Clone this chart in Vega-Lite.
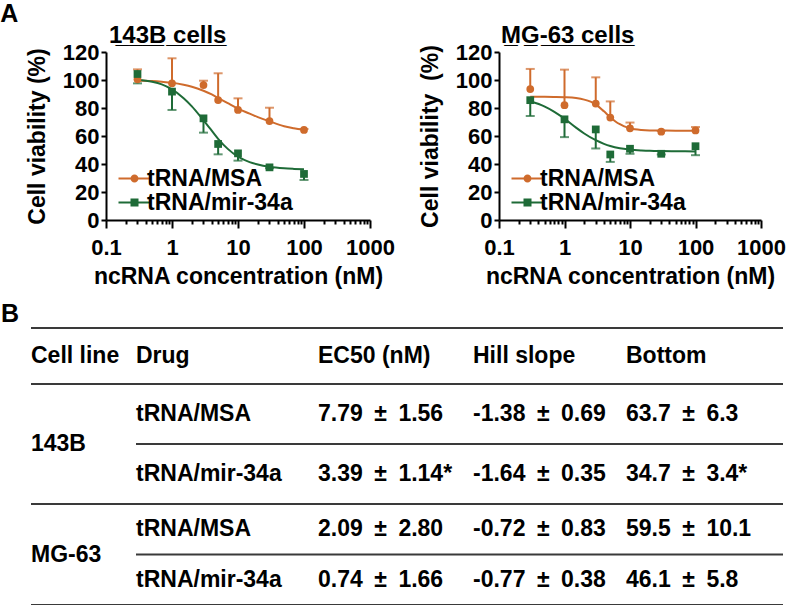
{
  "$schema": "https://vega.github.io/schema/vega-lite/v6.json",
  "padding": {"left": 0, "top": 2, "right": 0, "bottom": 0},
  "background": "white",
  "config": {
    "font": "Liberation Sans",
    "view": {"stroke": null},
    "axis": {
      "labelFont": "Liberation Sans", "labelFontWeight": "bold", "labelFontSize": 22, "labelColor": "black",
      "titleFont": "Liberation Sans", "titleFontWeight": "bold", "titleFontSize": 23, "titleColor": "black",
      "domainColor": "black", "domainWidth": 2, "tickColor": "black", "tickWidth": 2, "grid": false
    },
    "legend": {
      "orient": "bottom-left", "offset": 5, "padding": 0, "rowPadding": 0,
      "labelFont": "Liberation Sans", "labelFontSize": 23, "labelFontWeight": "bold", "labelColor": "black",
      "labelOffset": 13, "symbolSize": 256, "symbolStrokeWidth": 0, "symbolOpacity": 1
    },
    "title": {"font": "Liberation Sans", "fontWeight": "bold", "color": "black"}
  },
  "datasets": {
    "pts143B": [
      {"conc": 0.3, "series": "tRNA/MSA", "via": 100.5, "errEnd": 107.6},
      {"conc": 1, "series": "tRNA/MSA", "via": 97.6, "errEnd": 115.5},
      {"conc": 3, "series": "tRNA/MSA", "via": 96.4, "errEnd": 99.5},
      {"conc": 5, "series": "tRNA/MSA", "via": 85.7, "errEnd": 104.8},
      {"conc": 10, "series": "tRNA/MSA", "via": 78.6, "errEnd": 86.9},
      {"conc": 30, "series": "tRNA/MSA", "via": 70.7, "errEnd": 80.2},
      {"conc": 100, "series": "tRNA/MSA", "via": 64.3, "errEnd": 65.0},
      {"conc": 0.3, "series": "tRNA/mir-34a", "via": 104.3, "errEnd": 97.6},
      {"conc": 1, "series": "tRNA/mir-34a", "via": 91.7, "errEnd": 78.6},
      {"conc": 3, "series": "tRNA/mir-34a", "via": 72.6, "errEnd": 62.4},
      {"conc": 5, "series": "tRNA/mir-34a", "via": 54.3, "errEnd": 46.9},
      {"conc": 10, "series": "tRNA/mir-34a", "via": 47.6, "errEnd": 42.4},
      {"conc": 30, "series": "tRNA/mir-34a", "via": 37.6, "errEnd": 37.0},
      {"conc": 100, "series": "tRNA/mir-34a", "via": 32.9, "errEnd": 28.6}
    ],
    "curve143B": [
      {"conc": 0.3, "series": "tRNA/MSA", "via": 99.6},
      {"conc": 0.5, "series": "tRNA/MSA", "via": 99.2},
      {"conc": 0.7, "series": "tRNA/MSA", "via": 98.7},
      {"conc": 1, "series": "tRNA/MSA", "via": 98.0},
      {"conc": 1.5, "series": "tRNA/MSA", "via": 96.6},
      {"conc": 2, "series": "tRNA/MSA", "via": 95.2},
      {"conc": 3, "series": "tRNA/MSA", "via": 92.3},
      {"conc": 4, "series": "tRNA/MSA", "via": 89.7},
      {"conc": 5, "series": "tRNA/MSA", "via": 87.2},
      {"conc": 7, "series": "tRNA/MSA", "via": 83.4},
      {"conc": 10, "series": "tRNA/MSA", "via": 79.5},
      {"conc": 15, "series": "tRNA/MSA", "via": 76.0},
      {"conc": 20, "series": "tRNA/MSA", "via": 73.5},
      {"conc": 30, "series": "tRNA/MSA", "via": 70.5},
      {"conc": 50, "series": "tRNA/MSA", "via": 67.0},
      {"conc": 70, "series": "tRNA/MSA", "via": 65.6},
      {"conc": 100, "series": "tRNA/MSA", "via": 64.4},
      {"conc": 0.3, "series": "tRNA/mir-34a", "via": 100.2},
      {"conc": 0.5, "series": "tRNA/mir-34a", "via": 98.8},
      {"conc": 0.7, "series": "tRNA/mir-34a", "via": 96.9},
      {"conc": 1, "series": "tRNA/mir-34a", "via": 93.3},
      {"conc": 1.5, "series": "tRNA/mir-34a", "via": 87.0},
      {"conc": 2, "series": "tRNA/mir-34a", "via": 81.2},
      {"conc": 3, "series": "tRNA/mir-34a", "via": 71.2},
      {"conc": 4, "series": "tRNA/mir-34a", "via": 63.8},
      {"conc": 5, "series": "tRNA/mir-34a", "via": 58.0},
      {"conc": 7, "series": "tRNA/mir-34a", "via": 50.8},
      {"conc": 10, "series": "tRNA/mir-34a", "via": 45.2},
      {"conc": 15, "series": "tRNA/mir-34a", "via": 41.3},
      {"conc": 20, "series": "tRNA/mir-34a", "via": 39.6},
      {"conc": 30, "series": "tRNA/mir-34a", "via": 38.0},
      {"conc": 50, "series": "tRNA/mir-34a", "via": 36.9},
      {"conc": 70, "series": "tRNA/mir-34a", "via": 36.5},
      {"conc": 100, "series": "tRNA/mir-34a", "via": 36.2}
    ],
    "ptsMG63": [
      {"conc": 0.3, "series": "tRNA/MSA", "via": 93.5, "errEnd": 107.9},
      {"conc": 1, "series": "tRNA/MSA", "via": 82.0, "errEnd": 107.4},
      {"conc": 3, "series": "tRNA/MSA", "via": 83.2, "errEnd": 101.9},
      {"conc": 5, "series": "tRNA/MSA", "via": 73.2, "errEnd": 84.7},
      {"conc": 10, "series": "tRNA/MSA", "via": 65.5, "errEnd": 69.6},
      {"conc": 30, "series": "tRNA/MSA", "via": 63.1, "errEnd": 63.6},
      {"conc": 100, "series": "tRNA/MSA", "via": 64.0, "errEnd": 66.4},
      {"conc": 0.3, "series": "tRNA/mir-34a", "via": 85.6, "errEnd": 74.3},
      {"conc": 1, "series": "tRNA/mir-34a", "via": 71.9, "errEnd": 59.2},
      {"conc": 3, "series": "tRNA/mir-34a", "via": 64.7, "errEnd": 51.1},
      {"conc": 5, "series": "tRNA/mir-34a", "via": 46.8, "errEnd": 41.5},
      {"conc": 10, "series": "tRNA/mir-34a", "via": 50.9, "errEnd": 47.3},
      {"conc": 30, "series": "tRNA/mir-34a", "via": 47.3, "errEnd": 46.8},
      {"conc": 100, "series": "tRNA/mir-34a", "via": 52.7, "errEnd": 46.3}
    ],
    "curveMG63": [
      {"conc": 0.3, "series": "tRNA/MSA", "via": 88.0},
      {"conc": 0.5, "series": "tRNA/MSA", "via": 88.0},
      {"conc": 0.7, "series": "tRNA/MSA", "via": 87.9},
      {"conc": 1, "series": "tRNA/MSA", "via": 87.7},
      {"conc": 1.5, "series": "tRNA/MSA", "via": 87.1},
      {"conc": 2, "series": "tRNA/MSA", "via": 86.0},
      {"conc": 2.5, "series": "tRNA/MSA", "via": 84.5},
      {"conc": 3, "series": "tRNA/MSA", "via": 82.6},
      {"conc": 4, "series": "tRNA/MSA", "via": 77.6},
      {"conc": 5, "series": "tRNA/MSA", "via": 73.4},
      {"conc": 6, "series": "tRNA/MSA", "via": 70.4},
      {"conc": 7, "series": "tRNA/MSA", "via": 68.4},
      {"conc": 8, "series": "tRNA/MSA", "via": 67.0},
      {"conc": 10, "series": "tRNA/MSA", "via": 65.5},
      {"conc": 15, "series": "tRNA/MSA", "via": 64.3},
      {"conc": 20, "series": "tRNA/MSA", "via": 64.0},
      {"conc": 30, "series": "tRNA/MSA", "via": 63.9},
      {"conc": 50, "series": "tRNA/MSA", "via": 63.8},
      {"conc": 100, "series": "tRNA/MSA", "via": 63.8},
      {"conc": 0.3, "series": "tRNA/mir-34a", "via": 84.8},
      {"conc": 0.5, "series": "tRNA/mir-34a", "via": 81.0},
      {"conc": 0.7, "series": "tRNA/mir-34a", "via": 77.3},
      {"conc": 1, "series": "tRNA/mir-34a", "via": 72.4},
      {"conc": 1.5, "series": "tRNA/mir-34a", "via": 66.0},
      {"conc": 2, "series": "tRNA/mir-34a", "via": 61.8},
      {"conc": 3, "series": "tRNA/mir-34a", "via": 57.0},
      {"conc": 4, "series": "tRNA/mir-34a", "via": 54.4},
      {"conc": 5, "series": "tRNA/mir-34a", "via": 52.8},
      {"conc": 7, "series": "tRNA/mir-34a", "via": 51.2},
      {"conc": 10, "series": "tRNA/mir-34a", "via": 50.3},
      {"conc": 15, "series": "tRNA/mir-34a", "via": 49.7},
      {"conc": 20, "series": "tRNA/mir-34a", "via": 49.4},
      {"conc": 30, "series": "tRNA/mir-34a", "via": 49.2},
      {"conc": 50, "series": "tRNA/mir-34a", "via": 49.1},
      {"conc": 100, "series": "tRNA/mir-34a", "via": 49.0}
    ],
    "table": [
      {"row": 0, "col": 0, "text": "Cell line"},
      {"row": 0, "col": 1, "text": "Drug"},
      {"row": 0, "col": 2, "text": "EC50 (nM)"},
      {"row": 0, "col": 3, "text": "Hill slope"},
      {"row": 0, "col": 4, "text": "Bottom"},
      {"row": 1.5, "col": 0, "text": "143B"},
      {"row": 1, "col": 1, "text": "tRNA/MSA"},
      {"row": 1, "col": 2, "text": "7.79\u2002±\u20021.56"},
      {"row": 1, "col": 3, "text": "-1.38\u2002±\u20020.69"},
      {"row": 1, "col": 4, "text": "63.7\u2002±\u20026.3"},
      {"row": 2, "col": 1, "text": "tRNA/mir-34a"},
      {"row": 2, "col": 2, "text": "3.39\u2002±\u20021.14*"},
      {"row": 2, "col": 3, "text": "-1.64\u2002±\u20020.35"},
      {"row": 2, "col": 4, "text": "34.7\u2002±\u20023.4*"},
      {"row": 3.5, "col": 0, "text": "MG-63"},
      {"row": 3, "col": 1, "text": "tRNA/MSA"},
      {"row": 3, "col": 2, "text": "2.09\u2002±\u20022.80"},
      {"row": 3, "col": 3, "text": "-0.72\u2002±\u20020.83"},
      {"row": 3, "col": 4, "text": "59.5\u2002±\u200210.1"},
      {"row": 4, "col": 1, "text": "tRNA/mir-34a"},
      {"row": 4, "col": 2, "text": "0.74\u2002±\u20021.66"},
      {"row": 4, "col": 3, "text": "-0.77\u2002±\u20020.38"},
      {"row": 4, "col": 4, "text": "46.1\u2002±\u20025.8"}
    ],
    "tlines": [
      {"y": -0.5, "x1": 0, "x2": 5},
      {"y": 0.5, "x1": 0, "x2": 5},
      {"y": 1.5, "x1": 1, "x2": 5},
      {"y": 2.5, "x1": 0, "x2": 5},
      {"y": 3.5, "x1": 1, "x2": 5},
      {"y": 4.5, "x1": 0, "x2": 5}
    ]
  },
  "vconcat": [
    {
      "title": {"text": "A", "anchor": "start", "frame": "bounds", "fontSize": 25, "dx": -26, "offset": -3},
      "spacing": 24,
      "resolve": {"scale": {"color": "independent", "shape": "independent", "x": "independent", "y": "independent"}},
      "hconcat": [
        {
          "width": 264, "height": 168,
          "title": {"text": "1\u03324\u03323\u0332B\u0332 \u0332c\u0332e\u0332l\u0332l\u0332s\u0332", "anchor": "start", "frame": "group", "fontSize": 24, "dx": 3, "offset": -7},
          "resolve": {"legend": {"color": "independent", "shape": "independent"}},
          "encoding": {
            "x": {"field": "conc", "type": "quantitative", "title": "ncRNA concentration (nM)",
              "scale": {"type": "log", "domain": [0.1, 1000], "nice": false},
              "axis": {"values": [0.1,0.2,0.3,0.4,0.5,0.6,0.7,0.8,0.9,1,2,3,4,5,6,7,8,9,10,20,30,40,50,60,70,80,90,100,200,300,400,500,600,700,800,900,1000],
                "format": "~g", "labelExpr": "indexof([0.1,1,10,100,1000], datum.value) >= 0 ? datum.label : ''",
                "tickSize": {"condition": {"test": "indexof([0.1,1,10,100,1000], datum.value) >= 0", "value": 8}, "value": 4},
                "labelOverlap": false, "labelFlush": false, "labelBound": false, "labelPadding": 9, "titlePadding": 7}},
            "y": {"field": "via", "type": "quantitative", "title": "Cell viability (%)",
              "scale": {"domain": [0, 120], "nice": false},
              "axis": {"values": [0,20,40,60,80,100,120], "tickSize": 5, "labelPadding": 2, "titlePadding": 13}}
          },
          "layer": [
            {"data": {"name": "curve143B"}, "mark": {"type": "line", "strokeWidth": 2, "interpolate": "monotone"},
              "encoding": {"color": {"field": "series", "type": "nominal", "scale": {"domain": ["tRNA/MSA", "tRNA/mir-34a"], "range": ["#CF6B2C", "#1E6B37"]}, "legend": null}}},
            {"data": {"name": "pts143B"}, "mark": {"type": "rule", "strokeWidth": 2},
              "encoding": {"y2": {"field": "errEnd"}, "color": {"field": "series", "type": "nominal", "legend": null}}},
            {"data": {"name": "pts143B"}, "mark": {"type": "tick", "orient": "horizontal", "thickness": 2, "size": 9},
              "encoding": {"y": {"field": "errEnd", "type": "quantitative", "title": "Cell viability (%)"}, "color": {"field": "series", "type": "nominal", "legend": null}}},
            {"data": {"name": "pts143B"}, "transform": [{"filter": "datum.series === 'tRNA/MSA'"}], "mark": {"type": "point", "shape": "circle", "filled": true, "size": 60, "opacity": 1},
              "encoding": {"color": {"field": "series", "type": "nominal", "legend": null}}},
            {"data": {"name": "pts143B"}, "transform": [{"filter": "datum.series === 'tRNA/mir-34a'"}], "mark": {"type": "point", "shape": "square", "filled": true, "size": 60, "opacity": 1},
              "encoding": {"color": {"field": "series", "type": "nominal", "legend": null}}},
            {"data": {"name": "pts143B"}, "transform": [{"filter": "false"}], "mark": {"type": "point", "filled": true, "opacity": 1},
              "encoding": {
                "color": {"field": "series", "type": "nominal", "legend": {"title": null}},
                "shape": {"field": "series", "type": "nominal",
                  "scale": {"domain": ["tRNA/MSA", "tRNA/mir-34a"], "range": ["M-0.5,-0.125H3.5V0.125H-0.5ZM1,0A0.5,0.5,0,1,1,2,0A0.5,0.5,0,1,1,1,0Z", "M-0.5,-0.125H3.5V0.125H-0.5ZM1,-0.5H2V0.5H1Z"]},
                  "legend": {"title": null}}
              }}
          ]
        },
        {
          "width": 262, "height": 168,
          "title": {"text": "M\u0332G\u0332-\u03326\u03323\u0332 \u0332c\u0332e\u0332l\u0332l\u0332s\u0332", "anchor": "start", "frame": "group", "fontSize": 24, "dx": 2, "offset": -7},
          "resolve": {"legend": {"color": "independent", "shape": "independent"}},
          "encoding": {
            "x": {"field": "conc", "type": "quantitative", "title": "ncRNA concentration (nM)",
              "scale": {"type": "log", "domain": [0.1, 1000], "nice": false},
              "axis": {"values": [0.1,0.2,0.3,0.4,0.5,0.6,0.7,0.8,0.9,1,2,3,4,5,6,7,8,9,10,20,30,40,50,60,70,80,90,100,200,300,400,500,600,700,800,900,1000],
                "format": "~g", "labelExpr": "indexof([0.1,1,10,100,1000], datum.value) >= 0 ? datum.label : ''",
                "tickSize": {"condition": {"test": "indexof([0.1,1,10,100,1000], datum.value) >= 0", "value": 8}, "value": 4},
                "labelOverlap": false, "labelFlush": false, "labelBound": false, "labelPadding": 9, "titlePadding": 7}},
            "y": {"field": "via", "type": "quantitative", "title": "Cell viability\u00a0 (%)",
              "scale": {"domain": [0, 120], "nice": false},
              "axis": {"values": [0,20,40,60,80,100,120], "tickSize": 5, "labelPadding": 2, "titlePadding": 13}}
          },
          "layer": [
            {"data": {"name": "curveMG63"}, "mark": {"type": "line", "strokeWidth": 2, "interpolate": "monotone"},
              "encoding": {"color": {"field": "series", "type": "nominal", "scale": {"domain": ["tRNA/MSA", "tRNA/mir-34a"], "range": ["#CF6B2C", "#1E6B37"]}, "legend": null}}},
            {"data": {"name": "ptsMG63"}, "mark": {"type": "rule", "strokeWidth": 2},
              "encoding": {"y2": {"field": "errEnd"}, "color": {"field": "series", "type": "nominal", "legend": null}}},
            {"data": {"name": "ptsMG63"}, "mark": {"type": "tick", "orient": "horizontal", "thickness": 2, "size": 9},
              "encoding": {"y": {"field": "errEnd", "type": "quantitative", "title": "Cell viability\u00a0 (%)"}, "color": {"field": "series", "type": "nominal", "legend": null}}},
            {"data": {"name": "ptsMG63"}, "transform": [{"filter": "datum.series === 'tRNA/MSA'"}], "mark": {"type": "point", "shape": "circle", "filled": true, "size": 60, "opacity": 1},
              "encoding": {"color": {"field": "series", "type": "nominal", "legend": null}}},
            {"data": {"name": "ptsMG63"}, "transform": [{"filter": "datum.series === 'tRNA/mir-34a'"}], "mark": {"type": "point", "shape": "square", "filled": true, "size": 60, "opacity": 1},
              "encoding": {"color": {"field": "series", "type": "nominal", "legend": null}}},
            {"data": {"name": "ptsMG63"}, "transform": [{"filter": "false"}], "mark": {"type": "point", "filled": true, "opacity": 1},
              "encoding": {
                "color": {"field": "series", "type": "nominal", "legend": {"title": null}},
                "shape": {"field": "series", "type": "nominal",
                  "scale": {"domain": ["tRNA/MSA", "tRNA/mir-34a"], "range": ["M-0.5,-0.125H3.5V0.125H-0.5ZM1,0A0.5,0.5,0,1,1,2,0A0.5,0.5,0,1,1,1,0Z", "M-0.5,-0.125H3.5V0.125H-0.5ZM1,-0.5H2V0.5H1Z"]},
                  "legend": {"title": null}}
              }}
          ]
        }
      ]
    },
    {
      "width": 677, "height": 277,
      "title": {"text": "B", "anchor": "start", "frame": "group", "fontSize": 25, "dx": -105, "offset": 0},
      "layer": [
        {"data": {"name": "tlines"}, "mark": {"type": "rule", "strokeWidth": 2, "color": "#3a3a3a"},
          "encoding": {
            "x": {"field": "x1", "type": "quantitative", "axis": null, "scale": {"domain": [0,1,2,3,4,5], "range": [-75,30,212,367,520,677], "zero": false, "nice": false}},
            "x2": {"field": "x2"},
            "y": {"field": "y", "type": "quantitative", "axis": null, "scale": {"domain": [-0.5,0.5,2.5,4.5], "range": [0,56,176,277], "zero": false, "nice": false}}
          }},
        {"data": {"name": "table"}, "mark": {"type": "text", "align": "left", "baseline": "middle", "fontSize": 23, "fontWeight": "bold", "font": "Liberation Sans", "color": "black"},
          "encoding": {
            "x": {"field": "col", "type": "quantitative", "axis": null, "scale": {"domain": [0,1,2,3,4,5], "range": [-75,30,212,367,520,677], "zero": false, "nice": false}},
            "y": {"field": "row", "type": "quantitative", "axis": null, "scale": {"domain": [-0.5,0.5,2.5,4.5], "range": [0,56,176,277], "zero": false, "nice": false}},
            "text": {"field": "text"}
          }}
      ]
    }
  ],
  "spacing": 14
}
